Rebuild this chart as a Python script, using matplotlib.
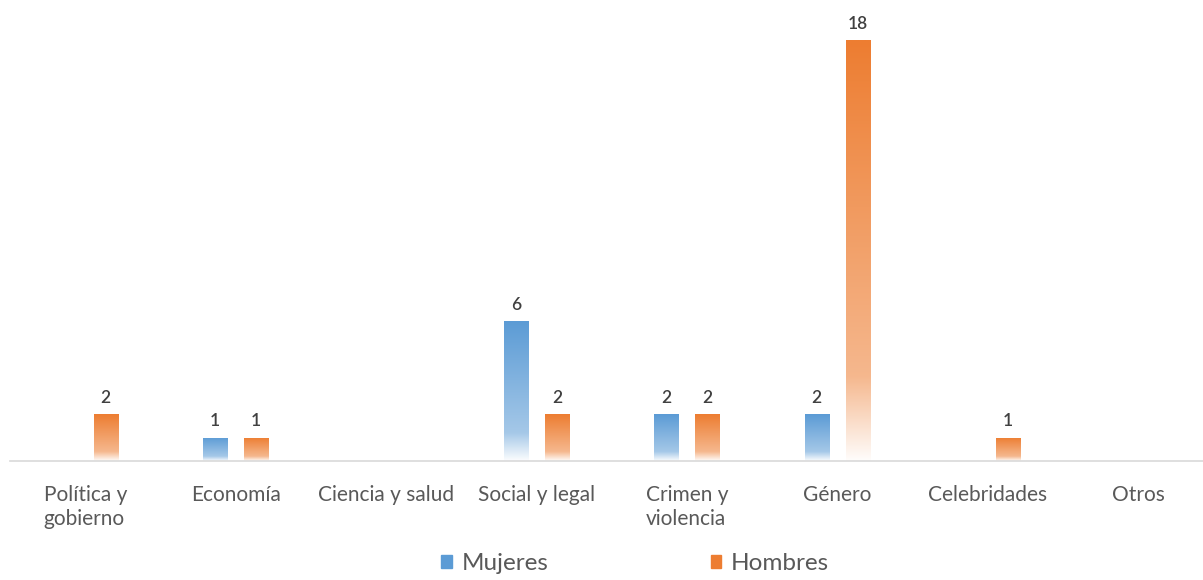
import numpy as np
import matplotlib.pyplot as plt
from matplotlib.colors import to_rgb
from matplotlib.patches import Rectangle

categories = ['Política y\ngobierno', 'Economía', 'Ciencia y salud', 'Social y legal',
              'Crimen y\nviolencia', 'Género', 'Celebridades', 'Otros']
mujeres = [0, 1, 0, 6, 2, 2, 0, 0]
hombres = [2, 1, 0, 2, 2, 18, 1, 0]

BLUE = '#5B9BD5'
ORANGE = '#ED7D31'
TEXT = '#595959'

plt.rcParams['font.family'] = ['Lato', 'DejaVu Sans']


def gradient_rgba(color, n=200):
    """Excel-like linear gradient: full colour at top, fading to white at the base."""
    c = np.array(to_rgb(color))
    t = np.linspace(0, 1, n)  # 0 = top, 1 = bottom
    # lighten gradually, then fade quickly to white in the last ~20%
    mix = np.where(t < 0.8, 0.45 * t / 0.8, 0.45 + 0.53 * (t - 0.8) / 0.2)
    rgb = c[None, :] * (1 - mix[:, None]) + mix[:, None]
    return rgb[:, None, :]


def gradient_bars(ax, x, heights, width, color):
    bars = ax.bar(x, heights, width, color='none', edgecolor='none')
    img = gradient_rgba(color)
    for b in bars:
        h = b.get_height()
        if h <= 0:
            continue
        x0 = b.get_x()
        im = ax.imshow(img, extent=[x0, x0 + b.get_width(), 0, h],
                       aspect='auto', zorder=2, interpolation='bilinear')
        im.set_clip_path(b)
        ax.text(x0 + b.get_width() / 2, h + 0.35, str(h), ha='center', va='bottom',
                fontsize=12.5, color='#404040', fontweight='semibold')
    return bars


fig = plt.figure(figsize=(12.03, 5.8), dpi=100)
ax = fig.add_axes([10 / 1203, (580 - 461) / 580, 1203.2 / 1203, 456 / 580])

x = np.arange(len(categories))
w = 0.16
off = 0.137
gradient_bars(ax, x - off, mujeres, w, BLUE)
gradient_bars(ax, x + off, hombres, w, ORANGE)

ax.set_xlim(-0.5, len(categories) - 0.5)
ax.set_ylim(0, 19.5)
for s in ['top', 'right', 'left']:
    ax.spines[s].set_visible(False)
ax.spines['bottom'].set_color('#D9D9D9')
ax.spines['bottom'].set_linewidth(1.2)
ax.set_yticks([])
ax.set_xticks(x)
ax.set_xticklabels(categories, fontsize=15, color=TEXT, linespacing=1.25,
                   va='top')
ax.tick_params(axis='x', length=0, pad=17)
for lbl in ax.get_xticklabels():
    lbl.set_multialignment('left')

handles = [Rectangle((0, 0), 1, 1, color=BLUE), Rectangle((0, 0), 1, 1, color=ORANGE)]
fig.legend(handles, ['Mujeres', 'Hombres'], loc='center', bbox_to_anchor=(0.528, 0.028),
           ncol=2, frameon=False, fontsize=17.5, handlelength=0.42, handleheight=0.42,
           columnspacing=6.7, handletextpad=0.4, labelcolor=TEXT)

fig.savefig('out.png', dpi=100)
